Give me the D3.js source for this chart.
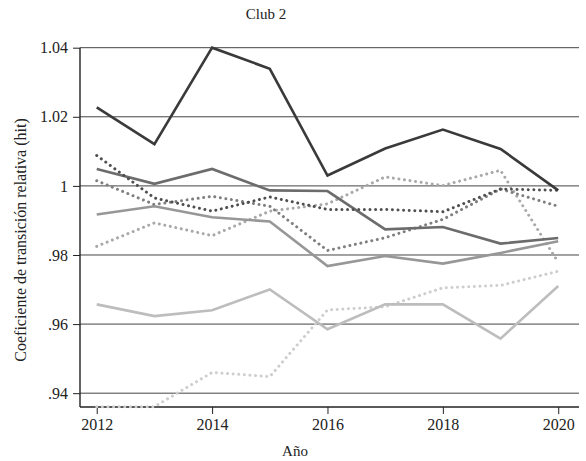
<!DOCTYPE html>
<html>
<head>
<meta charset="utf-8">
<script src="https://cdn.jsdelivr.net/npm/d3@7"></script>
<style>
  html, body { margin: 0; padding: 0; background: #fff; }
  svg text { font-family: "Liberation Serif", "DejaVu Serif", serif; fill: #222; }
</style>
</head>
<body>
<svg id="chart" width="586" height="461"></svg>
<script>
// Years on the horizontal axis
const years = [2012, 2013, 2014, 2015, 2016, 2017, 2018, 2019, 2020];

// Relative transition coefficient per economy (solid lines)
const solidDark   = [1.0227, 1.0121, 1.0400, 1.0339, 1.0030, 1.0108, 1.0163, 1.0107, 0.9987];
const solidMid    = [1.0049, 1.0006, 1.0049, 0.9987, 0.9985, 0.9874, 0.9881, 0.9833, 0.9849];
const solidLight  = [0.9917, 0.9941, 0.9909, 0.9897, 0.9768, 0.9797, 0.9775, 0.9806, 0.9840];
const solidPale   = [0.9657, 0.9623, 0.9640, 0.9700, 0.9585, 0.9657, 0.9657, 0.9558, 0.9710];

// Relative transition coefficient per economy (dotted lines)
const dotDark     = [1.0088, 0.9965, 0.9927, 0.9968, 0.9932, 0.9932, 0.9925, 0.9991, 0.9987];
const dotMid      = [1.0015, 0.9946, 0.9970, 0.9941, 0.9813, 0.9850, 0.9903, 0.9991, 0.9941];
const dotLight    = [0.9825, 0.9893, 0.9856, 0.9927, 0.9948, 1.0026, 1.0001, 1.0045, 0.9779];
const dotPale     = [0.9361, 0.9361, 0.9460, 0.9448, 0.9641, 0.9650, 0.9705, 0.9712, 0.9753];

// Axis ticks
const yTicks = [0.94, 0.96, 0.98, 1.00, 1.02, 1.04];
const yTickLabels = [".94", ".96", ".98", "1", "1.02", "1.04"];
const xTicks = [2012, 2014, 2016, 2018, 2020];

const series = [
  { values: dotPale,    color: "#cdcdcd", dotted: true },
  { values: solidPale,  color: "#bdbdbd", dotted: false },
  { values: dotLight,   color: "#a8a8a8", dotted: true },
  { values: solidLight, color: "#979797", dotted: false },
  { values: dotMid,     color: "#7f7f7f", dotted: true },
  { values: solidMid,   color: "#6c6c6c", dotted: false },
  { values: dotDark,    color: "#4f4f4f", dotted: true },
  { values: solidDark,  color: "#3a3a3a", dotted: false }
];

const svg = d3.select("#chart");
const plotLeft = 80, plotRight = 579, plotTop = 47.7, plotBottom = 407;

const x = d3.scaleLinear().domain([2011.71, 2020.36]).range([plotLeft, plotRight]);
const y = d3.scaleLinear().domain([0.936, 1.04]).range([plotBottom, plotTop]);

// Title
svg.append("text")
  .attr("x", 266).attr("y", 19)
  .attr("text-anchor", "middle")
  .style("font-size", "15px")
  .text("Club 2");

// Horizontal gridlines
svg.append("g").selectAll("line")
  .data(yTicks).join("line")
  .attr("x1", plotLeft).attr("x2", plotRight)
  .attr("y1", d => y(d)).attr("y2", d => y(d))
  .attr("stroke", "#444").attr("stroke-width", 1);

// Y axis
const yAxis = d3.axisLeft(y)
  .tickValues(yTicks)
  .tickSize(7)
  .tickPadding(5)
  .tickFormat((d, i) => yTickLabels[i]);
const gy = svg.append("g").attr("transform", `translate(${plotLeft},0)`).call(yAxis);
gy.select(".domain").attr("d", `M0,${plotTop}V${plotBottom}`).attr("stroke", "#222").attr("stroke-width", 1.4);
gy.selectAll(".tick line").attr("stroke", "#222");
gy.selectAll(".tick text").style("font-size", "16px").attr("fill", "#222")
  .style("font-family", "'Liberation Serif', serif");

// X axis
const xAxis = d3.axisBottom(x)
  .tickValues(xTicks)
  .tickSize(7)
  .tickPadding(5)
  .tickFormat(d3.format("d"));
const gx = svg.append("g").attr("transform", `translate(0,${plotBottom})`).call(xAxis);
gx.select(".domain").attr("d", `M${plotLeft},0H${plotRight}`).attr("stroke", "#222").attr("stroke-width", 1.4);
gx.selectAll(".tick line").attr("stroke", "#222");
gx.selectAll(".tick text").style("font-size", "16px").attr("fill", "#222")
  .style("font-family", "'Liberation Serif', serif");

// Axis titles
svg.append("text")
  .attr("x", 295).attr("y", 456)
  .attr("text-anchor", "middle")
  .style("font-size", "15px")
  .text("Año");

svg.append("text")
  .attr("transform", "translate(26,240) rotate(-90)")
  .attr("text-anchor", "middle")
  .style("font-size", "16px")
  .text("Coeficiente de transición relativa (hit)");

// Lines
const line = d3.line()
  .x((d, i) => x(years[i]))
  .y(d => y(d));

svg.append("g").selectAll("path")
  .data(series).join("path")
  .attr("d", d => line(d.values))
  .attr("fill", "none")
  .attr("stroke", d => d.color)
  .attr("stroke-width", d => d.dotted ? 3 : 2.6)
  .attr("stroke-linecap", d => d.dotted ? "round" : "butt")
  .attr("stroke-linejoin", "miter")
  .attr("stroke-dasharray", d => d.dotted ? "0.01 5.6" : null);
</script>
</body>
</html>
